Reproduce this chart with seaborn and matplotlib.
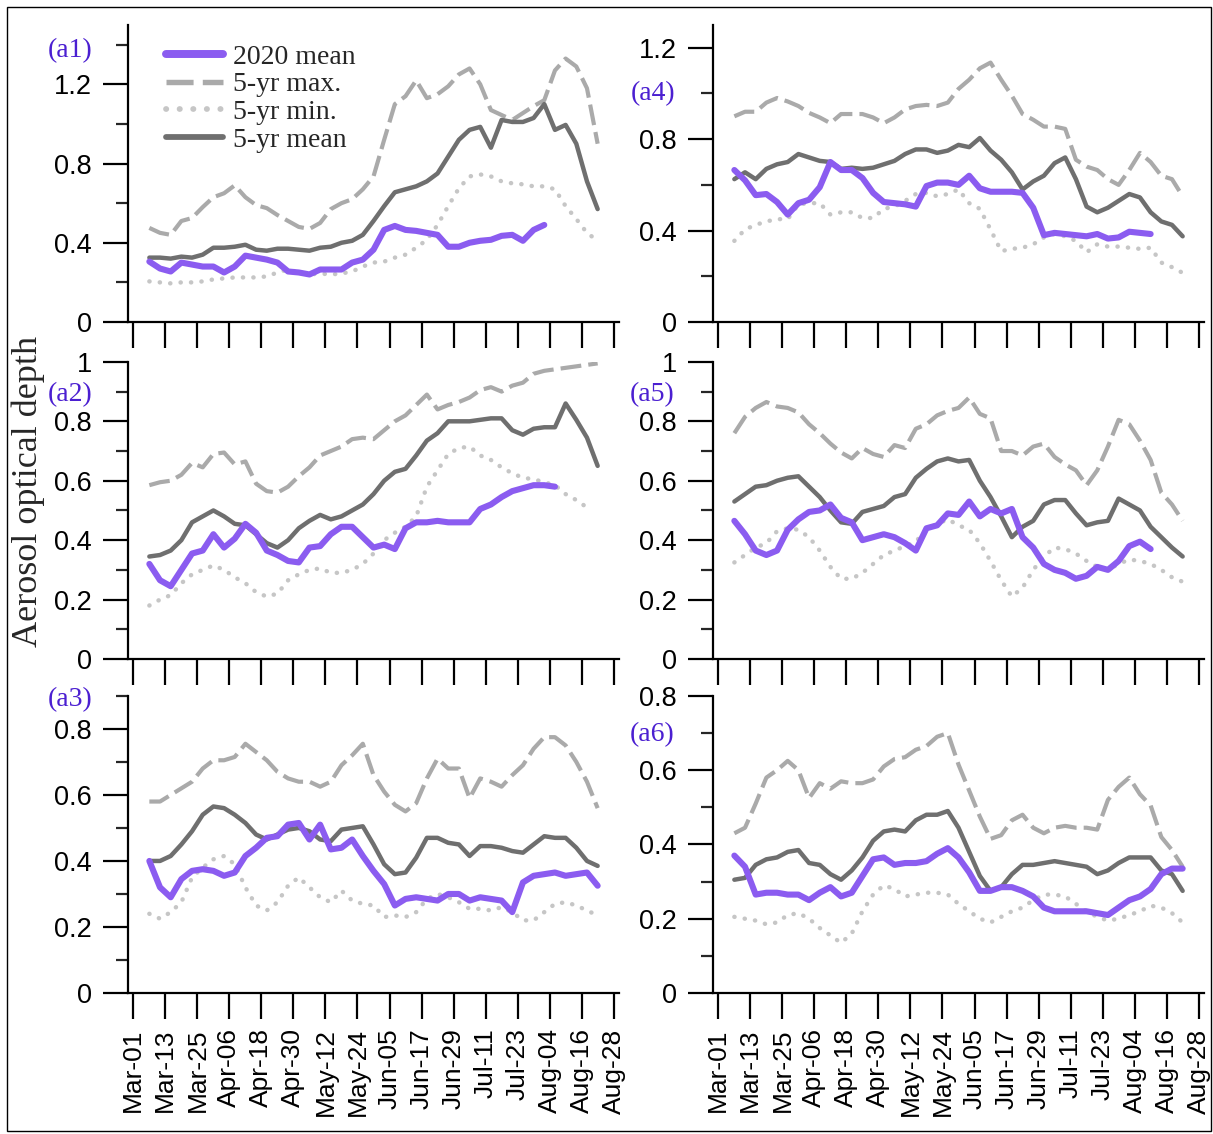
import matplotlib
matplotlib.use("Agg")
import matplotlib.pyplot as plt
import matplotlib.dates as mdates
from matplotlib.ticker import MultipleLocator, FuncFormatter
from matplotlib.patches import Rectangle
import pandas as pd
import seaborn as sns

sns.set_style("ticks")
plt.rcParams["font.family"] = ["Liberation Sans", "DejaVu Sans"]

# 4-day sampling, Mar-07 .. Aug-22
dates = pd.date_range("2020-03-07", periods=43, freq="4D")
tick_dates = pd.date_range("2020-03-01", periods=16, freq="12D")

# ---- (a1)
a1_max = [0.475, 0.45, 0.44, 0.51, 0.525, 0.58, 0.63, 0.65, 0.69, 0.63, 0.59, 0.575, 0.54, 0.51,
          0.48, 0.47, 0.50, 0.57, 0.60, 0.62, 0.67, 0.735, 0.92, 1.10, 1.14, 1.22, 1.13, 1.15,
          1.19, 1.25, 1.28, 1.20, 1.07, 1.045, 1.02, 1.055, 1.09, 1.12, 1.27, 1.33, 1.29, 1.18, 0.90]
a1_min = [0.205, 0.20, 0.195, 0.20, 0.20, 0.205, 0.215, 0.22, 0.225, 0.225, 0.225, 0.23, 0.25, 0.265,
          0.25, 0.24, 0.245, 0.24, 0.245, 0.255, 0.28, 0.30, 0.305, 0.325, 0.34, 0.375, 0.415, 0.49,
          0.585, 0.675, 0.735, 0.745, 0.735, 0.71, 0.70, 0.695, 0.685, 0.685, 0.67, 0.585, 0.52, 0.45, 0.41]
a1_mean = [0.325, 0.325, 0.32, 0.33, 0.325, 0.34, 0.375, 0.375, 0.38, 0.39, 0.365, 0.36, 0.37, 0.37,
           0.365, 0.36, 0.375, 0.38, 0.40, 0.41, 0.44, 0.51, 0.585, 0.655, 0.67, 0.685, 0.71, 0.75,
           0.835, 0.92, 0.97, 0.985, 0.88, 1.02, 1.01, 1.01, 1.03, 1.10, 0.97, 0.995, 0.90, 0.71, 0.57]
a1_2020 = [0.305, 0.27, 0.255, 0.30, 0.29, 0.28, 0.28, 0.25, 0.28, 0.335, 0.325, 0.315, 0.30, 0.255,
           0.25, 0.24, 0.265, 0.265, 0.265, 0.30, 0.315, 0.365, 0.465, 0.485, 0.465, 0.46, 0.45, 0.44,
           0.38, 0.38, 0.40, 0.41, 0.415, 0.435, 0.44, 0.41, 0.465, 0.49]

# ---- (a2)
a2_max = [0.585, 0.595, 0.60, 0.62, 0.66, 0.645, 0.69, 0.695, 0.655, 0.665, 0.59, 0.565, 0.56, 0.58,
          0.615, 0.645, 0.685, 0.70, 0.715, 0.74, 0.745, 0.74, 0.77, 0.80, 0.82, 0.855, 0.89, 0.84,
          0.855, 0.865, 0.88, 0.905, 0.915, 0.90, 0.92, 0.93, 0.96, 0.97, 0.975, 0.98, 0.985, 0.99, 0.995]
a2_min = [0.18, 0.20, 0.215, 0.255, 0.285, 0.30, 0.315, 0.30, 0.275, 0.255, 0.225, 0.21, 0.22, 0.265,
          0.285, 0.30, 0.305, 0.29, 0.29, 0.30, 0.32, 0.355, 0.40, 0.425, 0.445, 0.48, 0.58, 0.635,
          0.69, 0.71, 0.715, 0.685, 0.67, 0.645, 0.625, 0.61, 0.605, 0.595, 0.585, 0.555, 0.535, 0.51]
a2_mean = [0.345, 0.35, 0.365, 0.40, 0.46, 0.48, 0.50, 0.48, 0.455, 0.45, 0.42, 0.39, 0.375, 0.40,
           0.44, 0.465, 0.485, 0.47, 0.48, 0.50, 0.52, 0.555, 0.60, 0.63, 0.64, 0.685, 0.735, 0.76,
           0.80, 0.80, 0.80, 0.805, 0.81, 0.81, 0.77, 0.755, 0.775, 0.78, 0.78, 0.86, 0.805, 0.745, 0.65]
a2_2020 = [0.32, 0.265, 0.245, 0.30, 0.355, 0.365, 0.42, 0.375, 0.405, 0.455, 0.425, 0.365, 0.35, 0.33,
           0.325, 0.375, 0.38, 0.42, 0.445, 0.445, 0.41, 0.375, 0.385, 0.37, 0.44, 0.46, 0.46, 0.465,
           0.46, 0.46, 0.46, 0.505, 0.52, 0.545, 0.565, 0.575, 0.585, 0.585, 0.58]

# ---- (a3)
a3_max = [0.58, 0.58, 0.60, 0.62, 0.64, 0.68, 0.705, 0.705, 0.715, 0.755, 0.73, 0.705, 0.67, 0.65,
          0.64, 0.64, 0.625, 0.64, 0.69, 0.72, 0.755, 0.66, 0.61, 0.57, 0.55, 0.575, 0.65, 0.71,
          0.68, 0.68, 0.59, 0.65, 0.64, 0.625, 0.66, 0.69, 0.74, 0.775, 0.775, 0.75, 0.70, 0.64, 0.56]
a3_min = [0.24, 0.225, 0.245, 0.275, 0.35, 0.38, 0.405, 0.415, 0.39, 0.32, 0.265, 0.25, 0.275, 0.325,
          0.35, 0.32, 0.29, 0.275, 0.31, 0.28, 0.27, 0.265, 0.23, 0.235, 0.23, 0.245, 0.285, 0.30,
          0.29, 0.275, 0.255, 0.255, 0.25, 0.26, 0.245, 0.22, 0.22, 0.245, 0.27, 0.275, 0.265, 0.25, 0.235]
a3_mean = [0.40, 0.40, 0.415, 0.45, 0.49, 0.54, 0.565, 0.56, 0.54, 0.515, 0.48, 0.465, 0.48, 0.495,
           0.50, 0.49, 0.465, 0.46, 0.495, 0.50, 0.505, 0.45, 0.39, 0.36, 0.365, 0.41, 0.47, 0.47,
           0.455, 0.45, 0.415, 0.445, 0.445, 0.44, 0.43, 0.425, 0.45, 0.475, 0.47, 0.47, 0.44, 0.40, 0.385]
a3_2020 = [0.40, 0.32, 0.29, 0.345, 0.37, 0.375, 0.37, 0.355, 0.365, 0.415, 0.44, 0.47, 0.475, 0.51,
           0.515, 0.465, 0.51, 0.435, 0.44, 0.465, 0.415, 0.37, 0.33, 0.265, 0.285, 0.29, 0.285, 0.28,
           0.30, 0.30, 0.28, 0.29, 0.285, 0.28, 0.245, 0.335, 0.355, 0.36, 0.365, 0.355, 0.36, 0.365, 0.325]

# ---- (a4)
a4_max = [0.90, 0.92, 0.92, 0.96, 0.98, 0.965, 0.945, 0.915, 0.895, 0.87, 0.91, 0.91, 0.91, 0.895,
          0.87, 0.895, 0.93, 0.945, 0.95, 0.945, 0.96, 1.02, 1.06, 1.11, 1.135, 1.06, 0.99, 0.91,
          0.885, 0.855, 0.855, 0.845, 0.71, 0.68, 0.665, 0.625, 0.60, 0.665, 0.74, 0.70, 0.64, 0.625, 0.55]
a4_min = [0.355, 0.405, 0.425, 0.44, 0.45, 0.45, 0.515, 0.52, 0.52, 0.47, 0.48, 0.48, 0.455, 0.455,
          0.495, 0.505, 0.53, 0.56, 0.565, 0.55, 0.56, 0.58, 0.52, 0.495, 0.405, 0.31, 0.32, 0.325,
          0.34, 0.37, 0.385, 0.375, 0.355, 0.305, 0.34, 0.33, 0.33, 0.325, 0.32, 0.325, 0.26, 0.24, 0.215]
a4_mean = [0.625, 0.655, 0.625, 0.67, 0.69, 0.70, 0.735, 0.72, 0.705, 0.70, 0.67, 0.675, 0.67, 0.675,
           0.69, 0.705, 0.735, 0.755, 0.755, 0.74, 0.75, 0.775, 0.765, 0.805, 0.75, 0.71, 0.655, 0.58,
           0.615, 0.64, 0.695, 0.72, 0.625, 0.505, 0.48, 0.50, 0.53, 0.56, 0.545, 0.48, 0.44, 0.425, 0.375]
a4_2020 = [0.665, 0.62, 0.555, 0.56, 0.525, 0.47, 0.52, 0.535, 0.59, 0.70, 0.665, 0.665, 0.63, 0.565,
           0.525, 0.52, 0.515, 0.505, 0.595, 0.61, 0.61, 0.60, 0.64, 0.585, 0.57, 0.57, 0.57, 0.565,
           0.50, 0.38, 0.39, 0.385, 0.38, 0.375, 0.385, 0.365, 0.37, 0.395, 0.39, 0.385]

# ---- (a5)
a5_max = [0.76, 0.815, 0.845, 0.865, 0.85, 0.845, 0.83, 0.79, 0.76, 0.725, 0.695, 0.675, 0.71, 0.69,
          0.68, 0.72, 0.71, 0.775, 0.79, 0.82, 0.835, 0.845, 0.88, 0.825, 0.81, 0.70, 0.70, 0.685,
          0.715, 0.725, 0.68, 0.655, 0.635, 0.585, 0.635, 0.715, 0.805, 0.79, 0.735, 0.67, 0.56, 0.52, 0.465]
a5_min = [0.325, 0.35, 0.375, 0.39, 0.43, 0.44, 0.435, 0.41, 0.365, 0.31, 0.27, 0.27, 0.29, 0.32,
          0.35, 0.365, 0.38, 0.395, 0.435, 0.455, 0.47, 0.45, 0.435, 0.39, 0.33, 0.265, 0.21, 0.24,
          0.30, 0.345, 0.375, 0.37, 0.355, 0.33, 0.31, 0.30, 0.32, 0.335, 0.33, 0.32, 0.30, 0.275, 0.26]
a5_mean = [0.53, 0.555, 0.58, 0.585, 0.60, 0.61, 0.615, 0.58, 0.545, 0.50, 0.46, 0.455, 0.495, 0.505,
           0.515, 0.545, 0.555, 0.61, 0.64, 0.665, 0.675, 0.665, 0.67, 0.60, 0.545, 0.48, 0.41, 0.445,
           0.465, 0.52, 0.535, 0.535, 0.49, 0.45, 0.46, 0.465, 0.54, 0.52, 0.50, 0.445, 0.41, 0.375, 0.345]
a5_2020 = [0.465, 0.42, 0.365, 0.35, 0.365, 0.435, 0.47, 0.495, 0.50, 0.52, 0.475, 0.46, 0.40, 0.41,
           0.42, 0.41, 0.39, 0.365, 0.44, 0.45, 0.49, 0.485, 0.53, 0.48, 0.505, 0.49, 0.505, 0.41,
           0.375, 0.32, 0.30, 0.29, 0.27, 0.28, 0.31, 0.30, 0.33, 0.38, 0.395, 0.37]

# ---- (a6)
a6_max = [0.43, 0.445, 0.51, 0.58, 0.60, 0.625, 0.60, 0.525, 0.565, 0.55, 0.57, 0.565, 0.565, 0.575,
          0.61, 0.63, 0.635, 0.655, 0.665, 0.69, 0.70, 0.615, 0.545, 0.475, 0.415, 0.425, 0.465, 0.48,
          0.445, 0.43, 0.445, 0.45, 0.445, 0.445, 0.44, 0.52, 0.555, 0.58, 0.535, 0.505, 0.42, 0.385, 0.34]
a6_min = [0.205, 0.20, 0.195, 0.185, 0.19, 0.21, 0.215, 0.20, 0.175, 0.155, 0.135, 0.16, 0.22, 0.265,
          0.29, 0.28, 0.26, 0.265, 0.27, 0.27, 0.265, 0.24, 0.22, 0.20, 0.19, 0.205, 0.22, 0.23,
          0.25, 0.265, 0.265, 0.26, 0.24, 0.22, 0.205, 0.195, 0.20, 0.21, 0.22, 0.235, 0.23, 0.215, 0.19]
a6_mean = [0.305, 0.31, 0.345, 0.36, 0.365, 0.38, 0.385, 0.35, 0.345, 0.32, 0.305, 0.33, 0.365, 0.41,
           0.435, 0.44, 0.435, 0.465, 0.48, 0.48, 0.49, 0.445, 0.38, 0.315, 0.275, 0.285, 0.32, 0.345,
           0.345, 0.35, 0.355, 0.35, 0.345, 0.34, 0.32, 0.33, 0.35, 0.365, 0.365, 0.365, 0.33, 0.32, 0.275]
a6_2020 = [0.37, 0.34, 0.265, 0.27, 0.27, 0.265, 0.265, 0.25, 0.27, 0.285, 0.26, 0.27, 0.315, 0.36,
           0.365, 0.345, 0.35, 0.35, 0.355, 0.375, 0.39, 0.365, 0.325, 0.275, 0.275, 0.285, 0.285, 0.275,
           0.26, 0.23, 0.22, 0.22, 0.22, 0.22, 0.215, 0.21, 0.23, 0.25, 0.26, 0.28, 0.32, 0.335, 0.335]

panel_labels = ["(a1)", "(a2)", "(a3)", "(a4)", "(a5)", "(a6)"]
series_sets = [
    (a1_2020, a1_max, a1_min, a1_mean),
    (a2_2020, a2_max, a2_min, a2_mean),
    (a3_2020, a3_max, a3_min, a3_mean),
    (a4_2020, a4_max, a4_min, a4_mean),
    (a5_2020, a5_max, a5_min, a5_mean),
    (a6_2020, a6_max, a6_min, a6_mean),
]
y_tops = [1.5, 1.0, 0.9, 1.3, 1.0, 0.8]
y_major = [0.4, 0.2, 0.2, 0.4, 0.2, 0.2]
label_y = [1.37, 0.89, 0.89, 1.0, 0.89, 0.695]
legend_names = ["2020 mean", "5-yr max.", "5-yr min.", "5-yr mean"]

c_2020 = "#8b5cf0"
c_max = "#aaaaaa"
c_min = "#c6c6c6"
c_mean = "#6f6f6f"
c_label = "#4b1fd1"
serif = ["Liberation Serif", "DejaVu Serif"]

fig = plt.figure(figsize=(12.13, 11.34), dpi=100)
fig.patch.set_facecolor("white")
fig.patches.append(Rectangle((7 / 1213, 3 / 1134), 1 - 9 / 1213, 1 - 10 / 1134,
                             transform=fig.transFigure, fill=False, edgecolor="black",
                             linewidth=1.0))

col_left = [128 / 1213, 713 / 1213]
row_bottom = [1 - 322 / 1134, 1 - 659 / 1134, 1 - 993 / 1134]
ax_w = 491 / 1213
ax_h = 0.262

fmt = FuncFormatter(lambda v, p: f"{v:g}")
x0 = pd.Timestamp("2020-03-01") - pd.Timedelta(days=2)
x1 = pd.Timestamp("2020-08-28") + pd.Timedelta(days=2)

for i in range(6):
    col, row = divmod(i, 3)
    ax = fig.add_axes([col_left[col], row_bottom[row], ax_w, ax_h])
    s2020, smax, smin, smean = series_sets[i]

    sns.lineplot(x=dates[:len(smax)], y=smax, ax=ax, color=c_max, linewidth=3.0,
                 linestyle=(0, (5, 1.7)), label=legend_names[1])
    sns.lineplot(x=dates[:len(smin)], y=smin, ax=ax, color=c_min, linewidth=3.2,
                 linestyle=(0, (0.05, 2.3)), dash_capstyle="round", label=legend_names[2])
    sns.lineplot(x=dates[:len(smean)], y=smean, ax=ax, color=c_mean, linewidth=3.2,
                 label=legend_names[3])
    sns.lineplot(x=dates[:len(s2020)], y=s2020, ax=ax, color=c_2020, linewidth=4.4,
                 label=legend_names[0])

    ax.set_xlim(x0, x1)
    ax.set_ylim(0, y_tops[i])
    ax.set_xlabel("")
    ax.set_ylabel("")
    ax.set_xticks(tick_dates)
    ax.xaxis.set_major_formatter(mdates.DateFormatter("%b-%d"))
    ax.yaxis.set_major_locator(MultipleLocator(y_major[i]))
    ax.yaxis.set_minor_locator(MultipleLocator(y_major[i] / 2))
    ax.yaxis.set_major_formatter(fmt)

    for side in ["top", "right"]:
        ax.spines[side].set_visible(False)
    for side in ["left", "bottom"]:
        ax.spines[side].set_linewidth(1.6)
        ax.spines[side].set_color("black")

    ax.tick_params(axis="y", which="major", direction="out", length=18, width=1.6,
                   labelsize=19.5, pad=8, colors="black")
    ax.tick_params(axis="y", which="minor", direction="out", length=8.5, width=1.6)
    ax.tick_params(axis="x", which="major", direction="out", length=18.5, width=1.6,
                   labelsize=19, pad=7, labelrotation=90, colors="black")
    if row < 2:
        ax.tick_params(axis="x", labelbottom=False)

    ax.text(-0.118 if col == 0 else -0.123, label_y[i], panel_labels[i],
            transform=ax.get_yaxis_transform(), ha="center", va="center",
            fontsize=20, color=c_label, family=serif)

    if i == 0:
        handles, labels = ax.get_legend_handles_labels()
        order = [labels.index(n) for n in legend_names]
        leg = ax.legend([handles[k] for k in order], [labels[k] for k in order],
                        loc="upper left", bbox_to_anchor=(0.078, 0.935), frameon=False,
                        borderaxespad=0, borderpad=0, labelspacing=0.08,
                        handlelength=2.05, handletextpad=0.36,
                        prop={"family": serif, "size": 20})
        for h in leg.get_lines():
            h.set_linewidth(h.get_linewidth() * 1.3)
    else:
        ax.get_legend().remove()

fig.text(0.023, 0.567, "Aerosol optical depth", rotation=90, ha="center", va="center",
         fontsize=26, family=serif)

fig.savefig("out.png", dpi=100)
